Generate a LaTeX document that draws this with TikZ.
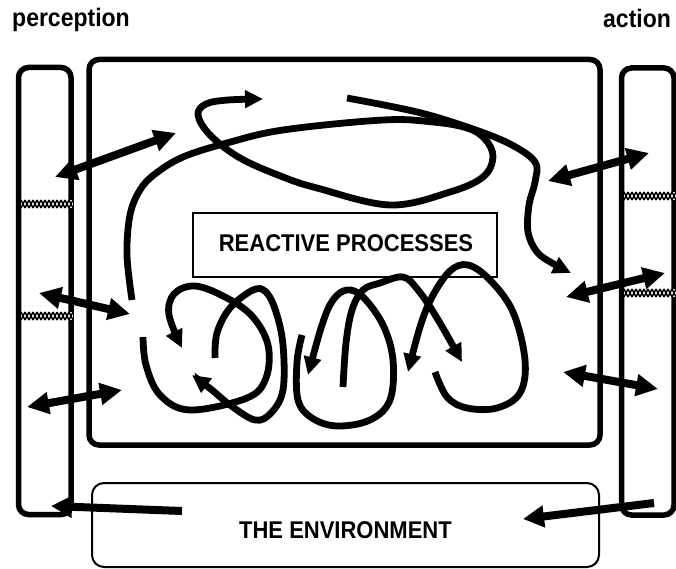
\documentclass[tikz,border=0pt]{standalone}
\usepackage{fontspec}
\setmainfont{Liberation Sans}
\usetikzlibrary{arrows.meta}
\begin{document}
\begin{tikzpicture}[x=1pt,y=-1pt,
  toplbl/.style={font=\bfseries\fontsize{23}{26}\selectfont, inner sep=0pt},
  boxlbl/.style={font=\bfseries\fontsize{22}{25}\selectfont, inner sep=0pt},
  colbox/.style={draw, line width=5.5pt, rounded corners=10pt, inner sep=0pt, outer sep=0pt},
  thinbox/.style={draw, line width=2.5pt, inner sep=0pt, outer sep=0pt},
  curvy/.style={line width=6.8pt, -{Triangle[length=18pt,width=17pt]}},
  dblarrow/.style={line width=8pt, {Triangle[length=22pt,width=21pt]}-{Triangle[length=22pt,width=21pt]}},
  sglarrow/.style={line width=8pt, -{Triangle[length=21pt,width=21pt]}},
  hatchline/.style={line width=1.4pt},
]
\useasboundingbox (0,0) rectangle (676,569);
\fill[white] (0,0) rectangle (676,569);

% labels
\node[toplbl, anchor=base west] (perc) at (12,27) {\scalebox{1}[1.1]{perception}};
\node[toplbl, anchor=base west] (act) at (603,28) {\scalebox{1}[1.1]{action}};

% columns and boxes
\node[colbox, minimum width=52.5pt, minimum height=447pt] (lcol) at (44.75,291) {};
\node[colbox, minimum width=52.5pt, minimum height=447pt] (rcol) at (647.75,291.5) {};
\node[colbox, minimum width=511pt, minimum height=385.5pt] (main) at (344.5,252.25) {};
\node[thinbox, minimum width=304pt, minimum height=64pt] (rp) at (345,245) {};
\node[boxlbl, anchor=base] (rptxt) at (346,251) {\scalebox{1}[1.1]{REACTIVE PROCESSES}};
\node[thinbox, rounded corners=12pt, line width=2pt, minimum width=507pt, minimum height=84pt] (env) at (345.5,525) {};
\node[boxlbl, anchor=base] (envtxt) at (345.5,538) {\scalebox{1}[1.1]{THE ENVIRONMENT}};

% hatched bands
\foreach \yy/\xa in {200/21, 312/21, 192/624, 289/624} {
  \fill[white] (\xa,\yy) rectangle ++(52,8);
  \foreach \k in {0,...,12}
    \draw[hatchline] ({\xa+\k*4},\yy) -- ++(4,8) ({\xa+\k*4},{\yy+8}) -- ++(4,-8);
}

% double arrows across the columns
\coordinate (l1a) at (55,177);  \coordinate (l1b) at (176,133);
\coordinate (l2a) at (39,293);  \coordinate (l2b) at (130,314);
\coordinate (l3a) at (27,407);  \coordinate (l3b) at (122,390);
\coordinate (r1a) at (548,181); \coordinate (r1b) at (649,153);
\coordinate (r2a) at (566,297); \coordinate (r2b) at (665,273);
\coordinate (r3a) at (563,372); \coordinate (r3b) at (658,389);
\draw[dblarrow] (l1a) -- (l1b);
\draw[dblarrow] (l2a) -- (l2b);
\draw[dblarrow] (l3a) -- (l3b);
\draw[dblarrow] (r1a) -- (r1b);
\draw[dblarrow] (r2a) -- (r2b);
\draw[dblarrow] (r3a) -- (r3b);

% environment arrows
\coordinate (eLt) at (182,511); \coordinate (eLh) at (51,506);
\coordinate (eRt) at (654,503); \coordinate (eRh) at (523,519);
\draw[sglarrow] (eLt) -- (eLh);
\draw[sglarrow] (eRt) -- (eRh);

% big upper loop
\draw[curvy] plot[smooth, tension=0.6] coordinates {(132,300) (127,255) (130,215) (140,190) (155,174) (183,157) (227,143) (283,130) (383,120) (433,122) (467,128) (485,139) (493,157) (483,177) (450,192) (390,205) (317,188) (283,177) (240,158) (210,135) (198,115) (206,104) (228,100) (263,99)};
% upper right curve
\draw[curvy] plot[smooth, tension=0.6] coordinates {(347,98) (417,112) (470,128) (510,144) (535,162) (535,182) (529,205) (528,232) (537,252) (552,263) (571,273)};

% lower loops
\draw[curvy] plot[smooth, tension=0.6] coordinates {(143,337) (146,365) (160,395) (190,410) (247,398) (266,378) (268,345) (252,316) (225,297) (195,286) (174,294) (169,315) (182,348)};
\draw[curvy] plot[smooth, tension=0.6] coordinates {(215,358) (217,333) (230,308) (253,290) (266,292) (276,312) (283,345) (283,390) (271,413) (255,420) (230,405) (212,390) (192,375)};
\draw[curvy] plot[smooth, tension=0.6] coordinates {(302,335) (297,362) (298,400) (312,418) (337,426) (370,420) (390,400) (393,360) (383,325) (363,297) (347,290) (333,300) (322,325) (308,375)};
\draw[curvy] plot[smooth, tension=0.6] coordinates {(343,387) (346,343) (352,310) (363,290) (380,283) (403,277) (418,290) (437,318) (462,362)};
\draw[curvy] plot[smooth, tension=0.6] coordinates {(435,372) (447,397) (467,408) (497,408) (520,393) (525,360) (513,312) (490,280) (468,265) (450,271) (432,297) (420,327) (408,372)};
\end{tikzpicture}
\end{document}
